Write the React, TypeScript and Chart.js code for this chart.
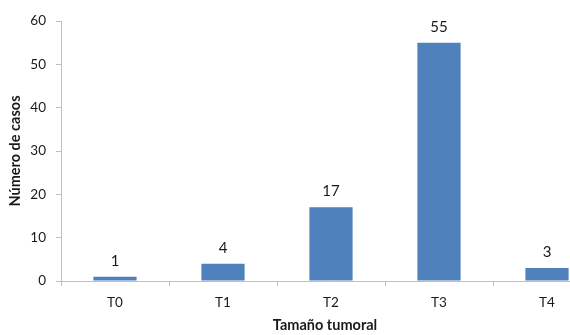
import React, { useEffect, useRef } from "react";
import { Chart, registerables } from "chart.js";

Chart.register(...registerables);

const categories = ["T0", "T1", "T2", "T3", "T4"];
const casos = [1, 4, 17, 55, 3];
const yTicks = [0, 10, 20, 30, 40, 50, 60];
const xTitle = "Tamaño tumoral";
const yTitle = "Número de casos";

const FONT = "Lato, 'Open Sans', sans-serif";
const TEXT = "#1a1a1a";
const AXIS = "#bfbfbf";

// Canvas is wider than the visible frame; the right end of the plot is clipped
const CANVAS_W = 603;
const CANVAS_H = 335;

// Value above each bar, plus the horizontal axis title
const annotations = {
  id: "annotations",
  afterDatasetsDraw(chart: any) {
    const ctx = chart.ctx;
    const meta = chart.getDatasetMeta(0);
    ctx.save();
    ctx.font = `15px ${FONT}`;
    ctx.fillStyle = TEXT;
    ctx.textAlign = "center";
    ctx.textBaseline = "middle";
    meta.data.forEach((bar: any, i: number) => {
      ctx.fillText(String(casos[i]), bar.x, bar.y - 16);
    });
    ctx.font = `bold 14.5px ${FONT}`;
    ctx.fillText(xTitle, 325, 325);
    ctx.restore();
  },
};

export default function App() {
  const ref = useRef<HTMLCanvasElement | null>(null);

  useEffect(() => {
    document.body.style.margin = "0";
    const chart = new Chart(ref.current!, {
      type: "bar",
      data: {
        labels: categories,
        datasets: [
          {
            data: casos,
            backgroundColor: "#4f81bd",
            borderWidth: 0,
            categoryPercentage: 1,
            barPercentage: 0.4,
          },
        ],
      },
      options: {
        animation: false,
        responsive: false,
        maintainAspectRatio: false,
        layout: { padding: { top: 21, right: 2, bottom: 0, left: 0 } },
        plugins: {
          legend: { display: false },
          tooltip: { enabled: false },
        },
        scales: {
          x: {
            offset: true,
            border: { color: AXIS, width: 1 },
            grid: {
              offset: true,
              drawOnChartArea: false,
              drawTicks: true,
              tickLength: 5,
              color: AXIS,
            },
            ticks: {
              color: TEXT,
              font: { family: FONT, size: 13.5 },
              padding: 9,
              maxRotation: 0,
            },
            afterFit(scale: any) {
              scale.height = 54;
            },
          },
          y: {
            min: 0,
            max: 60,
            border: { color: AXIS, width: 1 },
            grid: {
              drawOnChartArea: false,
              drawTicks: true,
              tickLength: 5,
              color: AXIS,
            },
            afterBuildTicks(scale: any) {
              scale.ticks = yTicks.map((v) => ({ value: v }));
            },
            ticks: {
              color: TEXT,
              font: { family: FONT, size: 13.5 },
              padding: 10,
            },
            title: {
              display: true,
              text: yTitle,
              color: TEXT,
              font: { family: FONT, size: 14.5, weight: "bold" },
              padding: { top: 7, bottom: 0 },
            },
            afterFit(scale: any) {
              scale.width = 61;
            },
          },
        },
      },
      plugins: [annotations],
    });
    return () => chart.destroy();
  }, []);

  return (
    <div
      style={{
        position: "absolute",
        left: 0,
        top: 0,
        width: 570,
        height: 335,
        overflow: "hidden",
      }}
    >
      <canvas ref={ref} width={CANVAS_W} height={CANVAS_H} />
    </div>
  );
}
